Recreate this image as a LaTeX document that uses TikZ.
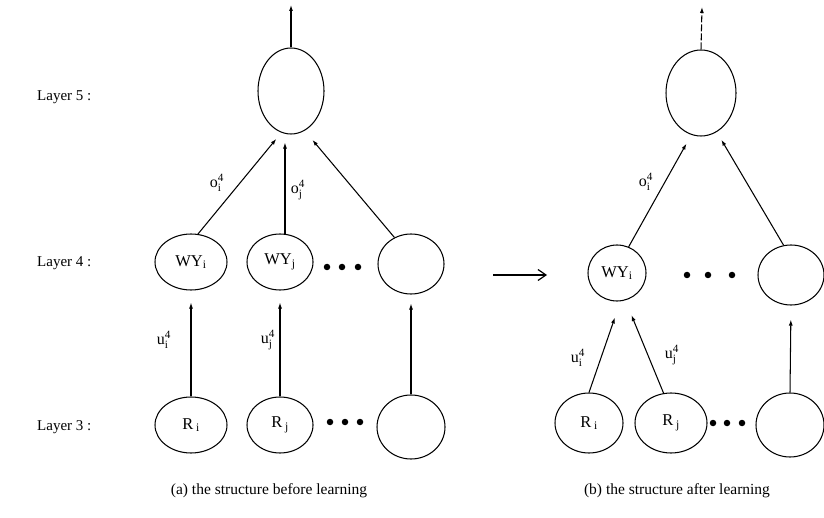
\documentclass[tikz,border=0pt]{standalone}
\usepackage{fontspec}
\usepackage{amsmath}
\setmainfont{Liberation Serif}
\usetikzlibrary{arrows.meta,shapes.geometric}
\newcommand{\lbsub}[3]{$\text{#1}^{\text{#3}}_{\text{#2}}$}
\begin{document}
\begin{tikzpicture}[x=1pt,y=-1pt,
  unit/.style={draw, ellipse, line width=1.05pt, inner sep=0pt, font=\fontsize{16.5}{18}\selectfont},
  arr/.style={line width=1.05pt, -{Latex[length=6pt,width=4pt]}},
  lbl/.style={font=\fontsize{16}{18}\selectfont, inner sep=0pt},
  layer/.style={font=\fontsize{15}{17}\selectfont, anchor=west, inner sep=0pt},
  captext/.style={font=\fontsize{15.5}{18}\selectfont, inner sep=0pt},
  dotc/.style={fill=black, circle, inner sep=0pt, minimum size=6.5pt}]
\useasboundingbox (0,0) rectangle (824,518);

% layer labels
\node[layer] (lab5) at (37,97) {Layer 5 :};
\node[layer] (lab4) at (37,263) {Layer 4 :};
\node[layer] (lab3) at (37,427) {Layer 3 :};

% ---------- (a) ----------
\node[unit, minimum width=66, minimum height=86] (L5) at (291,91) {};
\node[unit, minimum width=72, minimum height=56] (A4i) at (191,262) {WY\textsubscript{i}};
\node[unit, minimum width=66, minimum height=56] (A4j) at (280,262) {WY\textsubscript{j}};
\node[unit, minimum width=66, minimum height=60] (A4k) at (411,264) {};
\node[unit, minimum width=72, minimum height=56] (A3i) at (191,425) {R\,\textsubscript{i}};
\node[unit, minimum width=66, minimum height=56] (A3j) at (280,425) {R\,\textsubscript{j}};
\node[unit, minimum width=68, minimum height=64] (A3k) at (411,427) {};
\coordinate (L5out) at (291,5);

\draw[arr] (L5.north) -- (L5out);
\draw[arr, shorten >=8pt] (A4i.76) -- (L5.257);
\draw[arr, shorten >=8pt] (A4j.80) -- (A4j.80 |- L5.south);
\draw[arr, shorten >=12pt] (A4k.122) -- (L5.289);
\draw[arr, shorten >=12pt] (A3i.north) -- (A4i.south);
\draw[arr, shorten >=12pt] (A3j.north) -- (A4j.south);
\draw[arr, shorten >=9pt] (A3k.north) -- (A4k.south);

\node[lbl] (oi) at (217,183) {\lbsub{o}{i}{4}};
\node[lbl] (oj) at (298,190) {\lbsub{o}{j}{4}};
\node[lbl] (ui) at (164,340) {\lbsub{u}{i}{4}};
\node[lbl] (uj) at (268,340) {\lbsub{u}{j}{4}};

\node[dotc] (ad1) at (327,267) {};
\node[dotc] (ad2) at (342,267) {};
\node[dotc] (ad3) at (358,267) {};
\node[dotc] (ad4) at (330,422) {};
\node[dotc] (ad5) at (345,422) {};
\node[dotc] (ad6) at (360,422) {};

% transition arrow
\coordinate (ta) at (493,275);
\coordinate (tb) at (547,275);
\draw[line width=1.2pt, -{Straight Barb[length=8pt,width=11pt]}] (ta) -- (tb);

% ---------- (b) ----------
\node[unit, minimum width=70, minimum height=86] (B5) at (701,93) {};
\node[unit, minimum width=58, minimum height=56] (B4i) at (617,273) {WY\textsubscript{i}};
\node[unit, minimum width=66, minimum height=60] (B4k) at (791,275) {};
\node[unit, minimum width=68, minimum height=60] (B3i) at (589,423) {R\,\textsubscript{i}};
\node[unit, minimum width=72, minimum height=60] (B3j) at (671,423) {R\,\textsubscript{j}};
\node[unit, minimum width=68, minimum height=64] (B3k) at (790,425) {};
\coordinate (B5out) at (702,7);

\draw[arr, dash pattern=on 7pt off 2pt] (B5.north) -- (B5out);
\draw[arr, shorten >=10pt] (B4i.66) -- (B5.257);
\draw[arr, shorten >=9pt] (B4k.104) -- (B5.292);
\draw[arr, shorten >=17pt] (B3i.north) -- (B4i.277);
\draw[arr, shorten >=16pt] (B3j.104) -- (B4i.287);
\draw[arr, shorten >=14pt] (B3k.north) -- (B4k.south);

\node[lbl] (boi) at (646,182) {\lbsub{o}{i}{4}};
\node[lbl] (bui) at (578,358) {\lbsub{u}{i}{4}};
\node[lbl] (buj) at (672,355) {\lbsub{u}{j}{4}};

\node[dotc] (bd1) at (687,275) {};
\node[dotc] (bd2) at (708,275) {};
\node[dotc] (bd3) at (732,275) {};
\node[dotc] (bd4) at (713,423) {};
\node[dotc] (bd5) at (727,423) {};
\node[dotc] (bd6) at (742,423) {};

% captions
\node[captext] (capa) at (269,491) {(a) the structure before learning};
\node[captext] (capb) at (677,491) {(b) the structure after learning};
\end{tikzpicture}
\end{document}
